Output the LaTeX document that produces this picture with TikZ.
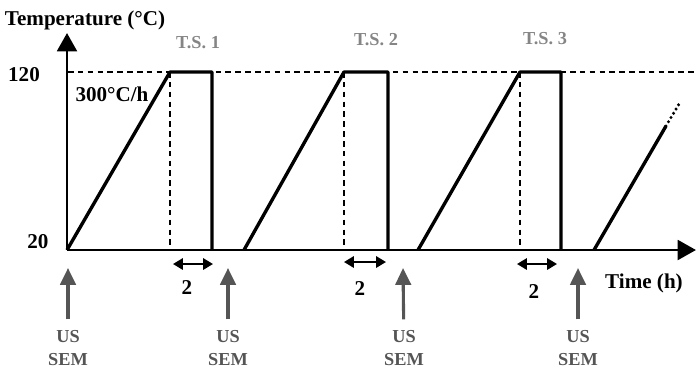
\documentclass[tikz,border=0pt]{standalone}
\usepackage{fontspec}
\setmainfont{Liberation Serif}
\usepackage{tikz}
\usetikzlibrary{positioning,arrows.meta}
\definecolor{probegray}{HTML}{555555}
\definecolor{tsgray}{HTML}{858585}

\begin{document}
\begin{tikzpicture}[
  x=0.025cm, y=-0.025cm,
  axis/.style={line width=2.1pt, -{Triangle[length=13pt, width=14pt]}},
  profile/.style={line width=2.4pt, line join=round},
  guide/.style={line width=1pt, dash pattern=on 4pt off 3pt},
  hold/.style={line width=1.5pt, {Triangle[length=7pt, width=8pt]}-{Triangle[length=7pt, width=8pt]}},
  probe/.style={draw=probegray, line width=2.2pt, shorten <=4pt, -{Triangle[length=12pt, width=11pt]}},
  lbl/.style={font=\fontsize{15}{17}\selectfont\bfseries},
  tslbl/.style={font=\fontsize{13}{15}\selectfont\bfseries, text=tsgray},
  obs/.style={text=probegray, align=center, font=\fontsize{13}{17}\selectfont\bfseries}
]
  \useasboundingbox (0,0) rectangle (696,371);

  % Axes
  \coordinate (o) at (67,250);
  \coordinate (ytop) at (67,33);
  \coordinate (xend) at (696,250);
  \draw[axis] (o) -- (ytop);
  \draw[axis] (o) -- (xend);
  \node[lbl] (ylab) at (85,20) {Temperature (\textdegree C)};
  \node[lbl] (xlab) at (644,283) {Time (h)};
  \node[lbl] (t120) at (24,75) {120};
  \node[lbl] (t20) at (38,242) {20};

  % 120 level
  \coordinate (h0) at (68,72);
  \coordinate (h1) at (696,72);
  \draw[guide] (h0) -- (h1);
  \node[lbl] (rate) at (112,94) {300\textdegree C/h};

  % Cycle 1
  \coordinate (b1) at (170,72);
  \coordinate (c1) at (212,72);
  \coordinate (d1) at (212,250);
  \draw[profile] (o) -- (b1) -- (c1) -- (d1);
  \draw[guide, line width=0.8pt] (b1) -- (b1 |- o);
  \coordinate (e1) at (173,264);
  \coordinate (f1) at (213,264);
  \draw[hold] (e1) -- (f1);
  \node[lbl] (dur1) at (187,288) {2};
  \node[tslbl] (ts1) at (198,43) {T.S. 1};

  % Cycle 2
  \coordinate (a2) at (244,250);
  \coordinate (b2) at (344,72);
  \coordinate (c2) at (388,72);
  \coordinate (d2) at (388,250);
  \draw[profile] (a2) -- (b2) -- (c2) -- (d2);
  \draw[guide, line width=0.8pt] (b2) -- (b2 |- o);
  \coordinate (e2) at (344,262);
  \coordinate (f2) at (386,262);
  \draw[hold] (e2) -- (f2);
  \node[lbl] (dur2) at (360,289) {2};
  \node[tslbl] (ts2) at (376,40) {T.S. 2};

  % Cycle 3
  \coordinate (a3) at (418,250);
  \coordinate (b3) at (520,72);
  \coordinate (c3) at (561,72);
  \coordinate (d3) at (561,250);
  \draw[profile] (a3) -- (b3) -- (c3) -- (d3);
  \draw[guide, line width=0.8pt] (b3) -- (b3 |- o);
  \coordinate (e3) at (517,264);
  \coordinate (f3) at (557,264);
  \draw[hold] (e3) -- (f3);
  \node[lbl] (dur3) at (534,292) {2};
  \node[tslbl] (ts3) at (545,39) {T.S. 3};

  % Next ramp
  \coordinate (a4) at (594,250);
  \coordinate (m4) at (666,126);
  \coordinate (z4) at (679,104);
  \draw[profile] (a4) -- (m4);
  \draw[profile, line cap=round, dash pattern=on 0pt off 3.5pt] (m4) -- (z4);

  % Measurements
  \node[obs] (obs1) at (68,348) {US\\SEM};
  \node[obs] (obs2) at (228,348) {US\\SEM};
  \node[obs] (obs3) at (404,348) {US\\SEM};
  \node[obs] (obs4) at (578,348) {US\\SEM};
  \coordinate (q1) at (68,268);
  \coordinate (q2) at (228,268);
  \coordinate (q3) at (403,268);
  \coordinate (q4) at (578,268);
  \draw[probe] (obs1) -- (q1);
  \draw[probe] (obs2) -- (q2);
  \draw[probe] (obs3) -- (q3);
  \draw[probe] (obs4) -- (q4);

\end{tikzpicture}
\end{document}
